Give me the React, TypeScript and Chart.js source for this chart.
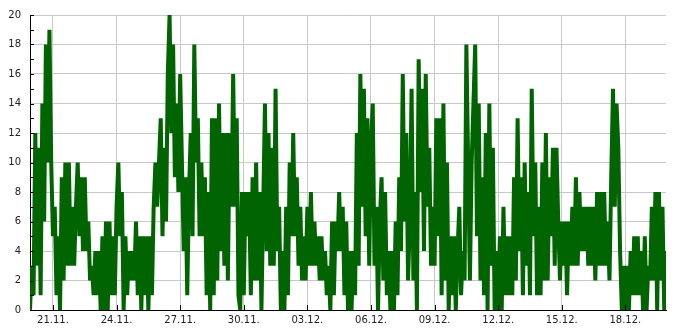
import { useEffect, useRef } from 'react';
import { Chart, registerables } from 'chart.js';

Chart.register(...registerables);

// Time axis is expressed in "day of November" (1.12. = 31).
// First sample: 19.11. 22:00, one sample every 2 hours, 30 days.
const SERIES_START_DAY = 19 + 22 / 24;
const SAMPLE_HOURS = 2;
const SPAN_DAYS = 30;

const values: number[] = [
  0, 3, 1, 12, 3, 11, 1, 14, 6, 18, 10, 19,
  10, 5, 7, 1, 5, 0, 9, 2, 10, 3, 10, 3,
  7, 3, 7, 10, 5, 9, 4, 9, 4, 6, 2, 3,
  1, 4, 1, 4, 0, 5, 0, 6, 0, 6, 1, 5,
  1, 7, 10, 5, 8, 0, 5, 1, 4, 2, 4, 2,
  6, 1, 5, 0, 5, 1, 5, 0, 5, 1, 7, 10,
  7, 10, 13, 5, 11, 6, 16, 20, 12, 18, 9, 14,
  8, 16, 10, 4, 9, 1, 8, 12, 5, 18, 10, 13,
  5, 10, 5, 9, 1, 8, 0, 13, 1, 13, 2, 14,
  4, 12, 3, 12, 2, 12, 7, 16, 7, 13, 1, 0,
  8, 1, 8, 5, 8, 1, 9, 2, 10, 2, 8, 0,
  7, 14, 4, 12, 3, 11, 3, 15, 4, 7, 0, 4,
  0, 7, 1, 10, 5, 12, 5, 9, 3, 7, 2, 5,
  2, 7, 3, 8, 3, 6, 3, 5, 2, 5, 2, 4,
  1, 3, 0, 6, 1, 6, 4, 8, 4, 7, 1, 6,
  0, 4, 0, 4, 1, 12, 3, 16, 7, 15, 5, 13,
  3, 11, 14, 3, 7, 0, 6, 9, 2, 8, 1, 4,
  0, 4, 0, 6, 1, 9, 4, 16, 6, 12, 2, 6,
  15, 2, 8, 0, 17, 8, 15, 4, 16, 7, 11, 3,
  7, 3, 13, 5, 13, 1, 14, 2, 10, 0, 5, 1,
  5, 0, 4, 7, 1, 4, 2, 18, 10, 2, 10, 14,
  18, 5, 14, 2, 9, 1, 12, 0, 14, 3, 11, 0,
  4, 0, 5, 0, 7, 1, 5, 1, 5, 1, 9, 2,
  13, 4, 9, 1, 10, 3, 8, 1, 15, 5, 10, 1,
  7, 1, 10, 2, 12, 2, 9, 5, 11, 3, 11, 6,
  2, 6, 3, 6, 1, 6, 3, 7, 3, 9, 3, 8,
  4, 7, 4, 7, 3, 7, 3, 7, 2, 8, 3, 8,
  3, 8, 3, 6, 2, 9, 15, 7, 14, 11, 4, 0,
  3, 0, 3, 0, 4, 1, 5, 1, 5, 1, 4, 0,
  5, 0, 3, 2, 7, 2, 8, 0, 8, 2, 7, 0,
  4,
];

const xTickDays = [21, 24, 27, 30, 33, 36, 39, 42, 45, 48];
const xTickLabels = ['21.11.', '24.11.', '27.11.', '30.11.', '03.12.', '06.12.', '09.12.', '12.12.', '15.12.', '18.12.'];

const Y_MIN = 0;
const Y_MAX = 20;
const Y_LABEL_STEP = 2;

const FONT = { family: 'DejaVu Sans', size: 10 };
const TEXT_COLOR = '#222';
const GRID_COLOR = '#c8c8c8';
const LINE_COLOR = '#006400';

const inwardTicks = {
  id: 'inwardTicks',
  afterDraw(chart: any) {
    const { ctx, chartArea, scales } = chart;
    ctx.save();
    ctx.strokeStyle = '#000';
    ctx.lineWidth = 1;
    ctx.beginPath();
    for (const t of scales.y.ticks) {
      const y = Math.round(scales.y.getPixelForValue(t.value)) + 0.5;
      ctx.moveTo(chartArea.left, y);
      ctx.lineTo(chartArea.left + 4, y);
    }
    for (const t of scales.x.ticks) {
      const x = Math.round(scales.x.getPixelForValue(t.value)) + 0.5;
      ctx.moveTo(x, chartArea.bottom);
      ctx.lineTo(x, chartArea.bottom - 5);
    }
    ctx.stroke();
    ctx.restore();
  },
};

export default function App() {
  const ref = useRef<HTMLCanvasElement | null>(null);

  useEffect(() => {
    if (!ref.current) return;
    const points = values.map((v, i) => ({ x: SERIES_START_DAY + (i * SAMPLE_HOURS) / 24, y: v }));
    const chart = new Chart(ref.current, {
      type: 'line',
      data: {
        datasets: [
          {
            data: points,
            borderColor: LINE_COLOR,
            backgroundColor: LINE_COLOR,
            borderWidth: 4,
            borderJoinStyle: 'bevel',
            borderCapStyle: 'butt',
            pointRadius: 0,
            tension: 0,
            fill: false,
          },
        ],
      },
      options: {
        animation: false,
        responsive: false,
        maintainAspectRatio: false,
        layout: { padding: { top: 10, right: 19, left: 0, bottom: 0 } },
        plugins: { legend: { display: false }, tooltip: { enabled: false } },
        scales: {
          x: {
            type: 'linear',
            min: SERIES_START_DAY,
            max: SERIES_START_DAY + SPAN_DAYS,
            afterBuildTicks: (scale: any) => {
              scale.ticks = xTickDays.map((v) => ({ value: v }));
            },
            afterFit: (scale: any) => {
              scale.height = 20;
            },
            ticks: {
              autoSkip: false,
              maxRotation: 0,
              padding: 4,
              color: TEXT_COLOR,
              font: FONT,
              callback: (v: any) => {
                const idx = xTickDays.indexOf(Number(v));
                return idx >= 0 ? xTickLabels[idx] : '';
              },
            },
            grid: { color: GRID_COLOR, lineWidth: 1, drawTicks: false },
            border: { color: '#000', width: 1 },
          },
          y: {
            type: 'linear',
            min: Y_MIN,
            max: Y_MAX,
            afterFit: (scale: any) => {
              scale.width = 30;
            },
            ticks: {
              stepSize: 1,
              autoSkip: false,
              padding: 9,
              color: TEXT_COLOR,
              font: FONT,
              callback: (v: any) => (Number(v) % Y_LABEL_STEP === 0 ? String(v) : ''),
            },
            grid: {
              color: (c: any) => (c.tick && c.tick.value % Y_LABEL_STEP === 0 ? GRID_COLOR : 'rgba(0,0,0,0)'),
              lineWidth: 1,
              drawTicks: false,
            },
            border: { color: '#000', width: 1 },
          },
        },
      },
      plugins: [inwardTicks],
    });
    return () => chart.destroy();
  }, []);

  return (
    <div style={{ position: 'absolute', left: 0, top: 0, width: 685, height: 330, background: '#fff' }}>
      <canvas ref={ref} width={685} height={330} />
    </div>
  );
}
